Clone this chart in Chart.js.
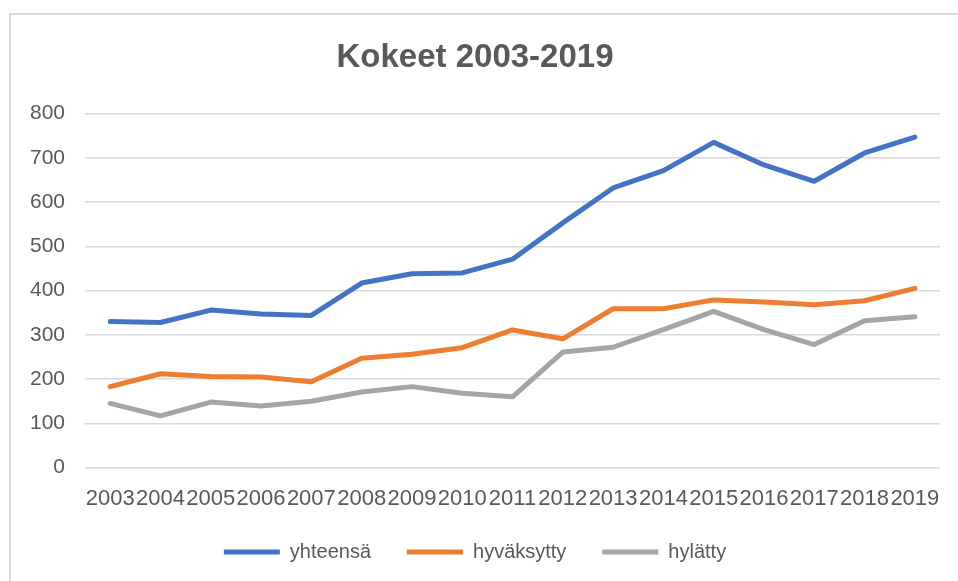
<!DOCTYPE html>
<html>
<head>
<meta charset="utf-8">
<script src="https://cdn.jsdelivr.net/npm/chart.js@4/dist/chart.umd.min.js"></script>
<style>
    html, body { margin: 0; padding: 0; background: #fff; }
    #wrap { position: relative; width: 958px; height: 581px; overflow: hidden; }
    #frame {
        position: absolute; left: 9px; top: 13px; width: 1000px; height: 600px;
        border-left: 2px solid #d9d9d9; border-top: 2px solid #d9d9d9;
    }
    #chartBox { position: absolute; left: 0; top: 0; width: 958px; height: 581px; }
</style>
</head>
<body>
<div id="wrap">
    <div id="frame"></div>
    <div id="chartBox"><canvas id="kokeetChart"></canvas></div>
</div>
<script>
// Data
const years = ['2003', '2004', '2005', '2006', '2007', '2008', '2009', '2010', '2011',
    '2012', '2013', '2014', '2015', '2016', '2017', '2018', '2019'];
const yhteensa = [330, 328, 356, 347, 344, 417, 438, 440, 471, 553, 632, 671, 735, 684, 647, 711, 747];
const hyvaksytty = [183, 212, 206, 205, 194, 247, 256, 271, 311, 291, 359, 359, 379, 374, 368, 377, 405];
const hylatty = [145, 117, 148, 139, 150, 171, 183, 168, 160, 261, 272, 312, 353, 312, 278, 332, 341];
const yTicks = [0, 100, 200, 300, 400, 500, 600, 700, 800];

const textColor = '#595959';
const fontFamily = "'Liberation Sans', Arial, sans-serif";

function lineSeries(label, data, color) {
    return {
        label: label,
        data: data,
        borderColor: color,
        backgroundColor: color,
        borderWidth: 5,
        borderCapStyle: 'round',
        borderJoinStyle: 'round',
        pointRadius: 0,
        pointHoverRadius: 0,
        tension: 0,
        fill: false
    };
}

const ctx = document.getElementById('kokeetChart');

new Chart(ctx, {
    type: 'line',
    data: {
        labels: years,
        datasets: [
            lineSeries('yhteensä', yhteensa, '#4472C4'),
            lineSeries('hyväksytty', hyvaksytty, '#ED7D31'),
            lineSeries('hylätty', hylatty, '#A5A5A5')
        ]
    },
    options: {
        responsive: true,
        maintainAspectRatio: false,
        animation: false,
        layout: {
            padding: { left: 10, right: 18, top: 4, bottom: 9 }
        },
        plugins: {
            title: {
                display: true,
                text: 'Kokeet 2003-2019',
                color: textColor,
                font: { family: fontFamily, size: 33, weight: 'bold' },
                padding: { top: 34, bottom: 36 }
            },
            legend: {
                position: 'bottom',
                labels: {
                    color: textColor,
                    font: { family: fontFamily, size: 20 },
                    usePointStyle: true,
                    pointStyle: 'line',
                    pointStyleWidth: 56,
                    padding: 36
                }
            },
            tooltip: { enabled: false }
        },
        scales: {
            x: {
                offset: true,
                grid: { display: false },
                border: { display: false },
                afterFit: axis => {
                    // tighten the gap between the year labels and the legend
                    axis.height -= 16;
                },
                ticks: {
                    color: textColor,
                    font: { family: fontFamily, size: 22 },
                    autoSkip: false,
                    maxRotation: 0,
                    minRotation: 0,
                    padding: 10
                }
            },
            y: {
                min: 0,
                max: 800,
                afterBuildTicks: axis => {
                    axis.ticks = yTicks.map(v => ({ value: v }));
                },
                grid: {
                    color: '#d9d9d9',
                    lineWidth: 1.5,
                    drawTicks: false
                },
                border: { display: false },
                ticks: {
                    color: textColor,
                    font: { family: fontFamily, size: 21 },
                    padding: 20
                }
            }
        }
    }
});
</script>
</body>
</html>
